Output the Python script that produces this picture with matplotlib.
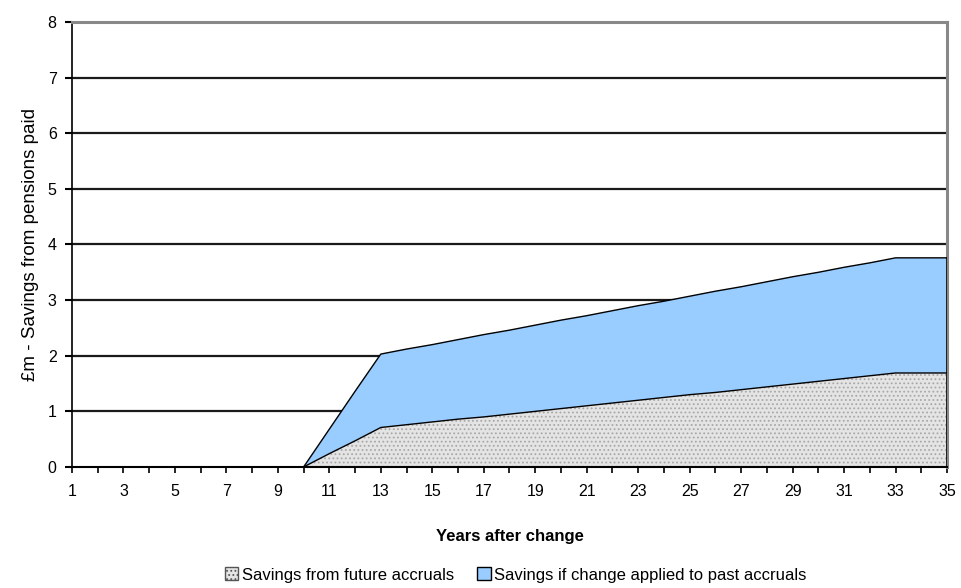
import matplotlib.pyplot as plt
from matplotlib.patches import Patch

plt.rcParams['font.family'] = ['Liberation Sans', 'DejaVu Sans']
plt.rcParams['hatch.linewidth'] = 0.8
plt.rcParams['hatch.color'] = '#a8a8a8'

years = list(range(1, 36))

# Savings from future accruals (£m)
future = [0, 0, 0, 0, 0, 0, 0, 0, 0, 0,
          0.24, 0.47, 0.71, 0.76, 0.81, 0.86, 0.90, 0.95, 1.00, 1.05,
          1.10, 1.15, 1.20, 1.25, 1.30, 1.34, 1.39, 1.44, 1.49, 1.54,
          1.59, 1.64, 1.69, 1.69, 1.69]

# Total savings if the change also applies to past accruals (£m)
total = [0, 0, 0, 0, 0, 0, 0, 0, 0, 0,
         0.68, 1.36, 2.03, 2.12, 2.20, 2.29, 2.38, 2.46, 2.55, 2.64,
         2.72, 2.81, 2.90, 2.98, 3.07, 3.16, 3.24, 3.33, 3.42, 3.50,
         3.59, 3.67, 3.76, 3.76, 3.76]

past = [t - f for t, f in zip(total, future)]

labels = ["Savings from future accruals",
          "Savings if change applied to past accruals"]

fig = plt.figure(figsize=(9.62, 5.88), dpi=100)
ax = fig.add_axes([0.0748, 0.2058, 0.9096, 0.7568])

# gridlines
for y in range(1, 9):
    ax.axhline(y, color='#1a1a1a', lw=1.6, zorder=1)

polys = ax.stackplot(years, future, past,
                     colors=['#e4e4e4', '#99ccff'], linewidth=0, zorder=2)
polys[0].set_hatch('....')
# outlines drawn separately so the hatch stays gray
ax.plot(years, future, color='black', lw=1.0, zorder=3)
ax.plot(years, total, color='black', lw=1.0, zorder=3)
ax.plot([35, 35], [0, total[-1]], color='black', lw=1.8, zorder=3)

ax.set_xlim(1, 35)
ax.set_ylim(0, 8)
ax.set_xticks(years)
ax.set_xticklabels([str(y) if y % 2 == 1 else '' for y in years])
ax.set_yticks(range(0, 9))
ax.tick_params(axis='x', length=4, width=1.2, direction='out', labelsize=11.5, pad=8)
ax.tick_params(axis='y', length=5, width=1.5, direction='out', labelsize=11.5, pad=6)

for side in ['top', 'right']:
    ax.spines[side].set_color('#888888')
    ax.spines[side].set_linewidth(2.2)
ax.spines['left'].set_color('black')
ax.spines['bottom'].set_color('black')
ax.spines['left'].set_linewidth(1.2)
ax.spines['bottom'].set_linewidth(1.5)

ax.set_xlabel('Years after change', fontsize=12, fontweight='bold', labelpad=22)
ax.set_ylabel('£m - Savings from pensions paid', fontsize=13.5, labelpad=6)

handles = [Patch(facecolor='#e4e4e4', edgecolor='#555555', hatch='....'),
           Patch(facecolor='#99ccff', edgecolor='black')]
fig.legend(handles, labels, loc='center', bbox_to_anchor=(0.536, 0.022),
           ncol=2, frameon=False, fontsize=12, handlelength=0.8,
           handleheight=0.8, handletextpad=0.2, columnspacing=1.4)

fig.savefig('out.png', dpi=100)
